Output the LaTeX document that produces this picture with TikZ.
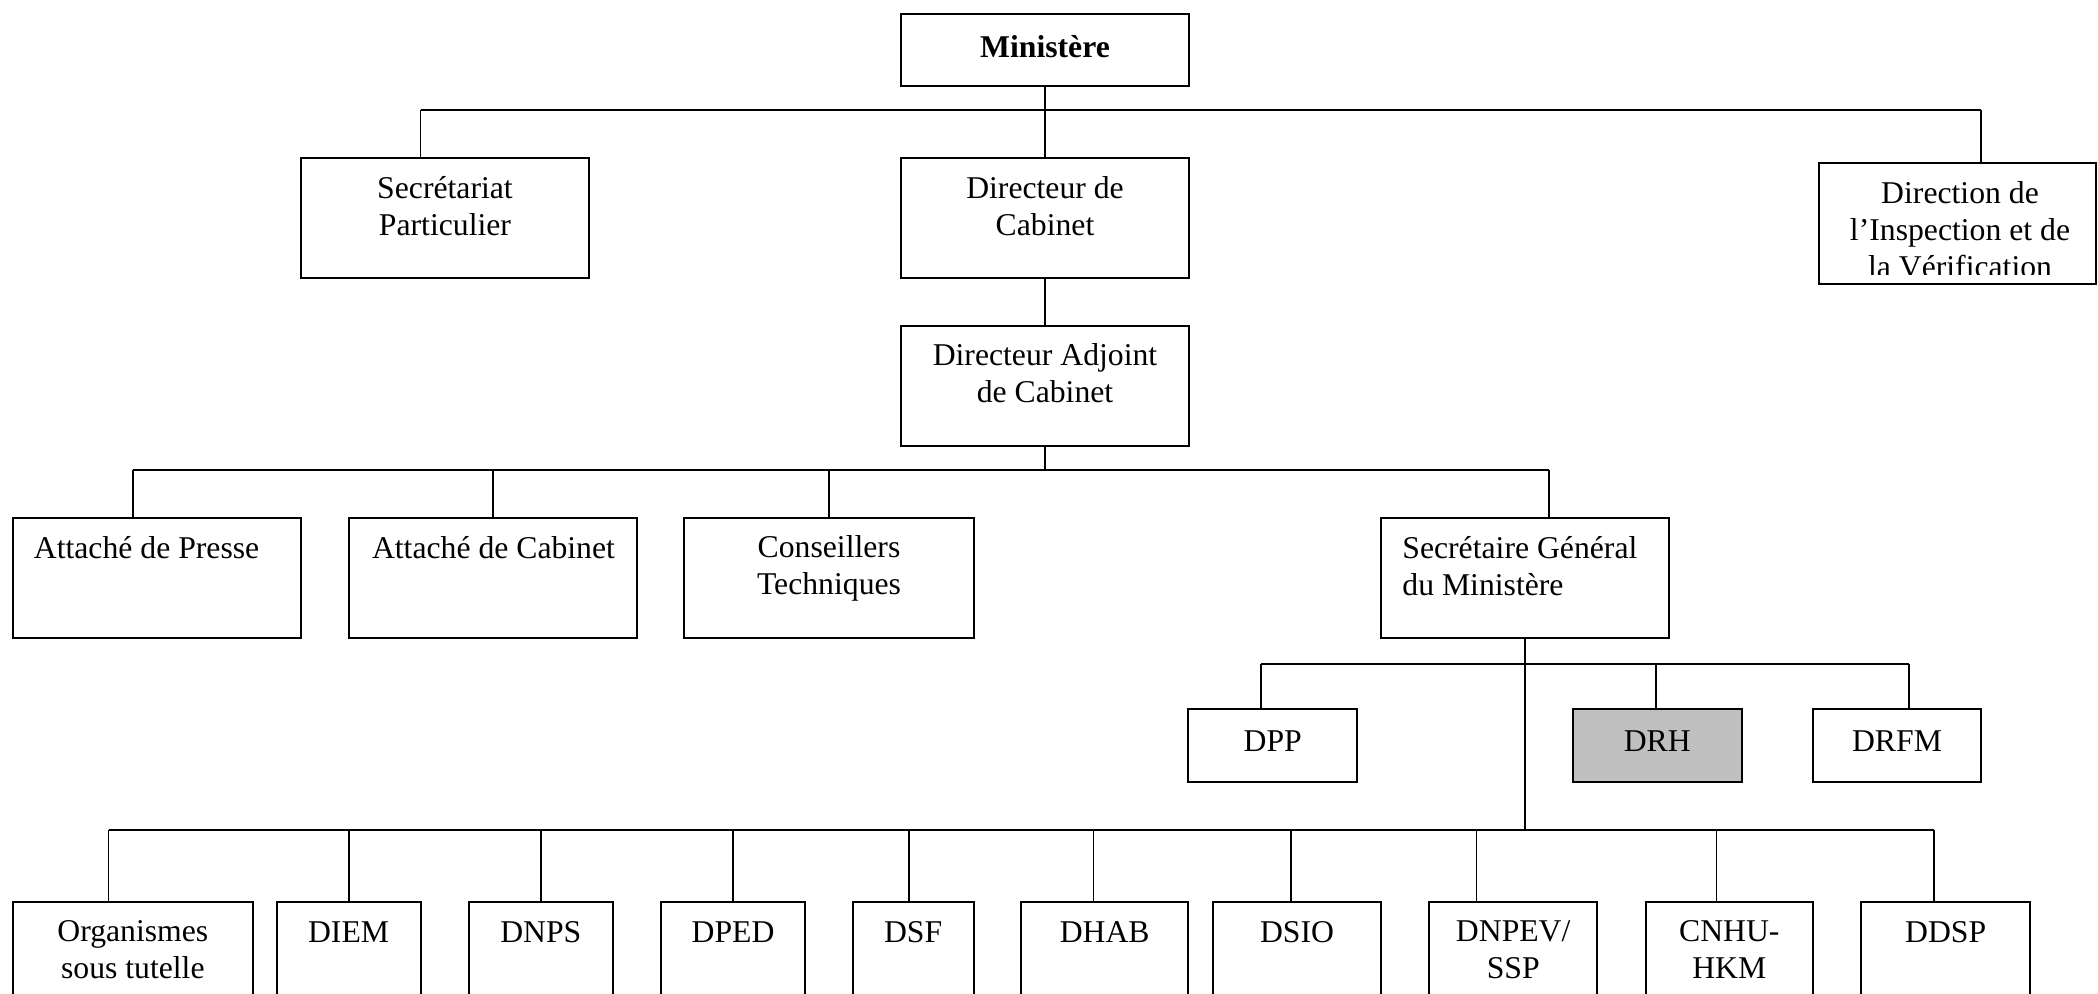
\documentclass[tikz,border=0pt]{standalone}
\usepackage{fontspec}
\setmainfont{Liberation Serif}
\begin{document}
\begin{tikzpicture}[x=0.5pt,y=-0.5pt,
  box/.style={draw, line width=1pt, inner sep=0pt, fill=white},
  bx/.style 2 args={box, minimum width=#1*0.5pt, minimum height=#2*0.5pt},
  conn/.style={line width=0.9pt},
  lbl/.style={inner sep=0pt, font=\fontsize{15.85}{18.5}\selectfont, align=center},
  lbll/.style={inner sep=0pt, font=\fontsize{15.85}{18.5}\selectfont, align=left}]
\path[use as bounding box, clip] (0,0) rectangle (2098,993);
% boxes
\node[bx={288}{72}] (min) at (1045,50) {};
\node[bx={288}{120}] (sp) at (445,218) {};
\node[bx={288}{120}] (dc) at (1045,218) {};
\node[bx={277.4}{121}] (div) at (1957.3,223.5) {};
\node[bx={288}{120}] (dac) at (1045,386) {};
\node[bx={288}{120}] (ap) at (156.7,578) {};
\node[bx={288}{120}] (ac) at (493,578) {};
\node[bx={289.7}{120}] (ct) at (829,578) {};
\node[bx={287.5}{120}] (sg) at (1525.2,578) {};
\node[bx={169.5}{73}] (dpp) at (1272.7,745.5) {};
\node[bx={169}{73}, fill={rgb,255:red,192;green,192;blue,192}] (drh) at (1657.2,745.5) {};
\node[bx={168}{73}] (drfm) at (1897,745.5) {};
\node[bx={240.3}{118.3}] (org) at (132.85,960.85) {};
\node[bx={144}{118.3}] (diem) at (348.6,960.85) {};
\node[bx={144}{118.3}] (dnps) at (540.8,960.85) {};
\node[bx={144}{118.3}] (dped) at (733,960.85) {};
\node[bx={121}{118.3}] (dsf) at (913.1,960.85) {};
\node[bx={167.4}{118.3}] (dhab) at (1104.7,960.85) {};
\node[bx={168}{118.3}] (dsio) at (1297,960.85) {};
\node[bx={168.4}{118.3}] (dnpev) at (1513.2,960.85) {};
\node[bx={167.4}{118.3}] (cnhu) at (1729.3,960.85) {};
\node[bx={168.6}{118.3}] (ddsp) at (1945.7,960.85) {};
% texts (base anchor = baseline of last line)
\node[lbl, anchor=base, font=\fontsize{15.85}{18.5}\selectfont\bfseries] (min-t) at (1045,57) {Ministère};
\node[lbl, anchor=base] (sp-t) at (445,235) {Secrétariat\\Particulier};
\node[lbl, anchor=base] (dc-t) at (1045,235) {Directeur de\\Cabinet};
\begin{scope}
\clip (1818.6,163) rectangle (2096,274);
\node[lbl, anchor=base] (div-t) at (1960,277) {Direction de\\l’Inspection et de\\la Vérification};
\end{scope}
\node[lbl, anchor=base] (dac-t) at (1045,402) {Directeur Adjoint\\de Cabinet};
\node[lbll, anchor=base west] (ap-t) at (33.5,558) {Attaché de Presse};
\node[lbll, anchor=base west] (ac-t) at (371.6,558) {Attaché de Cabinet};
\node[lbl, anchor=base] (ct-t) at (829,594) {Conseillers\\Techniques};
\node[lbll, anchor=base west] (sg-t) at (1402,595) {Secrétaire Général\\du Ministère};
\node[lbl, anchor=base] (dpp-t) at (1272.7,751) {DPP};
\node[lbl, anchor=base] (drh-t) at (1657.2,751) {DRH};
\node[lbl, anchor=base] (drfm-t) at (1897,751) {DRFM};
\node[lbl, anchor=base] (org-t) at (132.85,978.3) {Organismes\\sous tutelle};
\node[lbl, anchor=base] (diem-t) at (348.6,942) {DIEM};
\node[lbl, anchor=base] (dnps-t) at (540.8,942) {DNPS};
\node[lbl, anchor=base] (dped-t) at (733,942) {DPED};
\node[lbl, anchor=base] (dsf-t) at (913.1,942) {DSF};
\node[lbl, anchor=base] (dhab-t) at (1104.7,942) {DHAB};
\node[lbl, anchor=base] (dsio-t) at (1297,942) {DSIO};
\node[lbl, anchor=base] (dnpev-t) at (1513.2,978.3) {DNPEV/\\SSP};
\node[lbl, anchor=base] (cnhu-t) at (1729.3,978.3) {CNHU-\\HKM};
\node[lbl, anchor=base] (ddsp-t) at (1945.7,942) {DDSP};
% bus coordinates
\coordinate (b1l) at (420.5,109.7);
\coordinate (b1r) at (1981,109.7);
\coordinate (b2l) at (132.6,470);
\coordinate (b2r) at (1549,470);
\coordinate (b2ac) at (493,470);
\coordinate (b2ct) at (829,470);
\coordinate (b3l) at (1261,663.7);
\coordinate (b3r) at (1909,663.7);
\coordinate (b3m) at (1656,663.7);
\coordinate (b4l) at (108.5,830);
\coordinate (b4r) at (1933.6,830);
% connectors
\draw[conn] (b1l) -- (b1r);
\draw[conn] (min.south) -- (min.south |- b1l);
\draw[conn] (b1l) -- (b1l |- sp.north);
\draw[conn] (b1r) -- (b1r |- div.north);
\draw[conn] (dc.north) -- (dc.north |- b1l);
\draw[conn] (dc.south) -- (dac.north);
\draw[conn] (dac.south) -- (dac.south |- b2l);
\draw[conn] (b2l) -- (b2r);
\draw[conn] (b2l) -- (b2l |- ap.north);
\draw[conn] (b2ac) -- (b2ac |- ac.north);
\draw[conn] (b2ct) -- (b2ct |- ct.north);
\draw[conn] (b2r) -- (b2r |- sg.north);
\draw[conn] (b3l) -- (b3r);
\draw[conn] (b3l) -- (b3l |- dpp.north);
\draw[conn] (b3m) -- (b3m |- drh.north);
\draw[conn] (b3r) -- (b3r |- drfm.north);
\draw[conn] (sg.south) -- (sg.south |- b4l);
\draw[conn] (b4l) -- (b4r);
\draw[conn] (b4l) -- (b4l |- org.north);
\foreach \n/\x in {diem/349, dnps/541, dped/733, dsf/909, dhab/1093.4, dsio/1290.6, dnpev/1476.4, cnhu/1716.4}
  \draw[conn] (\x,830) -- (\x,830 |- \n.north);
\draw[conn] (b4r) -- (b4r |- ddsp.north);
\end{tikzpicture}
\end{document}
